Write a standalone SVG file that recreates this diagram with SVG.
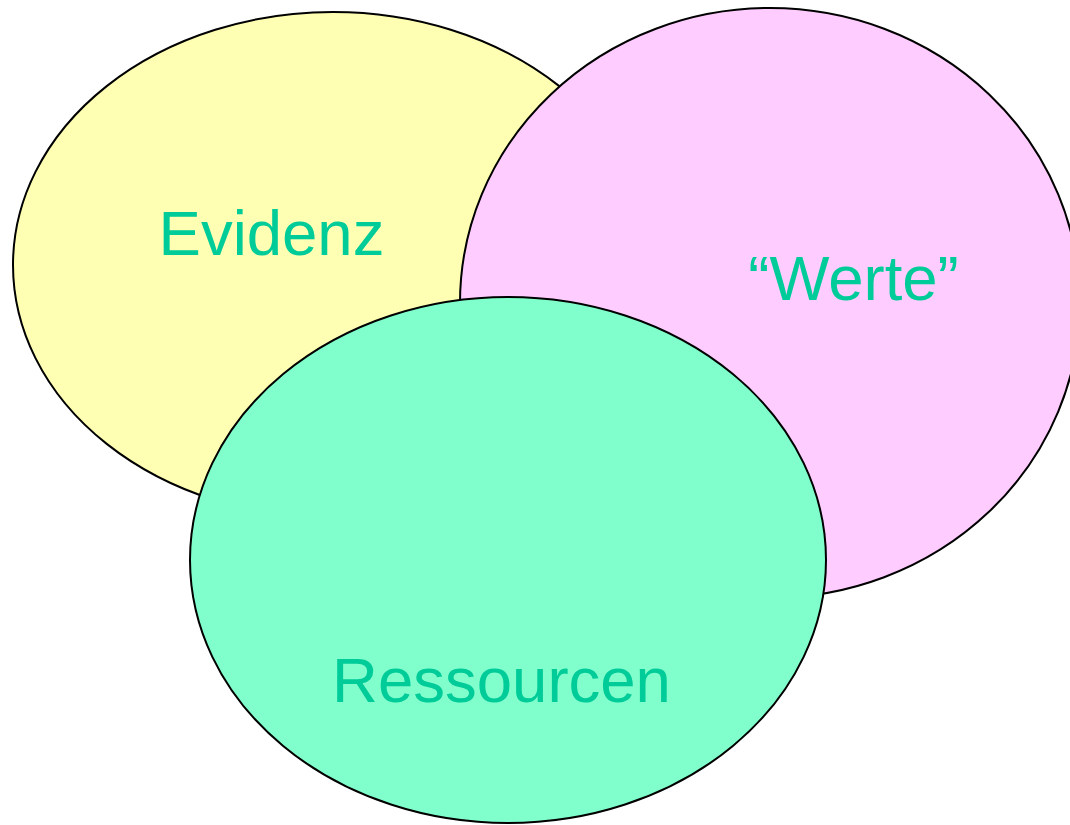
<svg xmlns="http://www.w3.org/2000/svg" width="1070" height="825" viewBox="0 0 1070 825">
<style>
.set{stroke:#000;stroke-width:2}
.lbl{font-family:"Liberation Sans",Arial,sans-serif;font-size:63.5px;fill:#00CC99;text-anchor:middle}
</style>
<rect width="1070" height="825" fill="#fff"/>
<g id="evidenz">
<ellipse class="set" cx="333" cy="265" rx="320" ry="253" fill="#FFFFB3"/>
<text class="lbl" x="271.5" y="255">Evidenz</text>
</g>
<g id="werte">
<ellipse class="set" cx="770" cy="303" rx="310" ry="295" fill="#FFCCFF"/>
<text class="lbl" x="853.5" y="300">“Werte”</text>
</g>
<g id="ressourcen">
<ellipse class="set" cx="508" cy="560" rx="318" ry="263" fill="#80FFCC"/>
<text class="lbl" x="501.5" y="702">Ressourcen</text>
</g>
<g id="connectors"></g>
</svg>
